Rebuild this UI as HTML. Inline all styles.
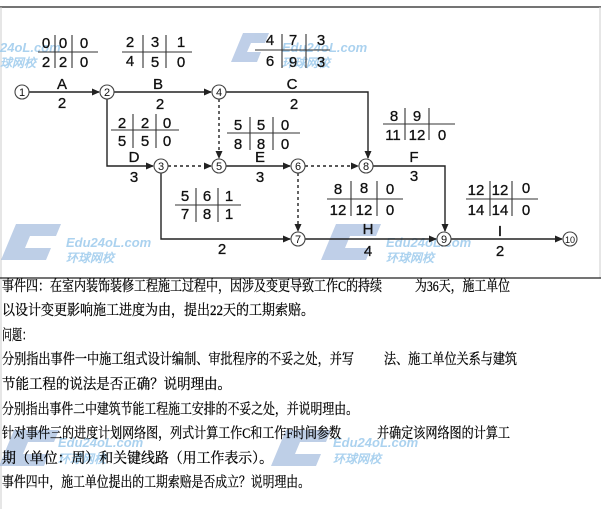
<!DOCTYPE html>
<html><head><meta charset="utf-8"><style>
html,body{margin:0;padding:0;background:#fff;}
svg{display:block}
.t{font-family:"Liberation Sans",sans-serif;font-size:15px;fill:#111;text-anchor:middle;stroke:#111;stroke-width:0.3}
.c{font-family:"Liberation Serif","Noto Serif CJK SC",serif;font-size:14.5px;fill:#000;stroke:#000;stroke-width:0.25}
.wm{font-family:"Liberation Sans",sans-serif;font-style:italic;font-weight:bold;fill:#8fc3ea}
</style></head><body>
<svg width="602" height="509" viewBox="0 0 602 509" xmlns="http://www.w3.org/2000/svg">
<defs><marker id="a" markerWidth="8" markerHeight="8" refX="7" refY="4" orient="auto" markerUnits="userSpaceOnUse"><path d="M0,0.5 L8,4 L0,7.5z" fill="#222"/></marker></defs>
<rect width="602" height="509" fill="#fff"/>
<line x1="0" y1="7" x2="601" y2="7" stroke="#222" stroke-width="1.2"/>
<line x1="1" y1="7" x2="1" y2="509" stroke="#ccc"/>
<line x1="600" y1="7" x2="600" y2="278" stroke="#ccc"/>
<line x1="0" y1="278" x2="601" y2="278" stroke="#222" stroke-width="1.2"/>

<g opacity="0.75">
<path d="M243,33 h26 l-4,10 h-14 l-4,9 h14 l-4,10 h-26z" fill="#a9bfe0"/>
<text class="wm" x="282" y="52" font-size="13">Edu24oL.com</text>
<text class="wm" x="282" y="67" font-size="12">环球网校</text>
<text class="wm" x="0" y="52" font-size="13">24oL.com</text>
<text class="wm" x="0" y="67" font-size="12">球网校</text>
<path d="M16,224 h45 l-5,12 h-26 l-5,12 h26 l-5,12 h-45z" fill="#a9bfe0"/>
<text class="wm" x="66" y="247" font-size="13">Edu24oL.com</text>
<text class="wm" x="66" y="262" font-size="12">环球网校</text>
<path d="M336,224 h45 l-5,12 h-26 l-5,12 h26 l-5,12 h-45z" fill="#a9bfe0"/>
<text class="wm" x="386" y="247" font-size="13">Edu24oL.com</text>
<text class="wm" x="386" y="262" font-size="12">环球网校</text>
<path d="M14,430 h45 l-5,12 h-26 l-5,12 h26 l-5,12 h-45z" fill="#a9bfe0"/>
<text class="wm" x="58" y="447" font-size="13">Edu24oL.com</text>
<text class="wm" x="58" y="463" font-size="12">环球网校</text>
<path d="M286,430 h45 l-5,12 h-26 l-5,12 h26 l-5,12 h-45z" fill="#a9bfe0"/>
<text class="wm" x="333" y="447" font-size="13">Edu24oL.com</text>
<text class="wm" x="333" y="463" font-size="12">环球网校</text>
</g>

<g stroke="#222" stroke-width="1.4" fill="none">
<line x1="29" y1="92" x2="99" y2="92" marker-end="url(#a)"/>
<line x1="114" y1="92" x2="211" y2="92" marker-end="url(#a)"/>
<polyline points="226,92 368,92 368,158" marker-end="url(#a)"/>
<polyline points="107,99 107,166 153,166" marker-end="url(#a)"/>
<line x1="226" y1="166" x2="290" y2="166" marker-end="url(#a)"/>
<polyline points="161,173 161,239 290,239" marker-end="url(#a)"/>
<polyline points="373,166 445,166 445,231" marker-end="url(#a)"/>
<line x1="305" y1="239" x2="436" y2="239" marker-end="url(#a)"/>
<line x1="451" y1="239" x2="562" y2="239" marker-end="url(#a)"/>
<g stroke-dasharray="3,3">
<line x1="168" y1="166" x2="211" y2="166" marker-end="url(#a)"/>
<line x1="219" y1="99" x2="219" y2="158" marker-end="url(#a)"/>
<line x1="305" y1="166" x2="358" y2="166" marker-end="url(#a)"/>
<line x1="298" y1="173" x2="298" y2="231" marker-end="url(#a)"/>
</g>
</g>
<g fill="#fff" stroke="#444" stroke-width="1.1">
<circle cx="22" cy="92" r="7"/><circle cx="107" cy="92" r="7"/><circle cx="219" cy="92" r="7"/>
<circle cx="161" cy="166" r="7"/><circle cx="219" cy="166" r="7"/><circle cx="298" cy="166" r="7"/>
<circle cx="366" cy="166" r="7"/><circle cx="298" cy="239" r="7"/><circle cx="444" cy="239" r="7"/>
<circle cx="570" cy="239" r="7"/>
</g>
<g class="t" style="font-size:11px;stroke-width:0">
<text x="22" y="96">1</text><text x="107" y="96">2</text><text x="219" y="96">4</text>
<text x="161" y="170">3</text><text x="219" y="170">5</text><text x="298" y="170">6</text>
<text x="366" y="170">8</text><text x="298" y="243">7</text><text x="444" y="243">9</text>
<text x="570" y="243" style="font-size:9px">10</text>
</g>
<g class="t">
<text x="62" y="89">A</text><text x="62" y="108">2</text>
<text x="158" y="89">B</text><text x="160" y="109">2</text>
<text x="292" y="89">C</text><text x="294" y="109">2</text>
<text x="134" y="162">D</text><text x="134" y="182">3</text>
<text x="260" y="162">E</text><text x="260" y="182">3</text>
<text x="414" y="162">F</text><text x="414" y="181">3</text>
<text x="222" y="254">2</text>
<text x="368" y="234">H</text><text x="368" y="256">4</text>
<text x="500" y="236">I</text><text x="500" y="256">2</text>
</g>
<g stroke="#333" stroke-width="1.1">
<line x1="38" y1="52" x2="98" y2="52"/><line x1="55" y1="35" x2="55" y2="68"/><line x1="72" y1="35" x2="72" y2="68"/>
<line x1="122" y1="52" x2="192" y2="52"/><line x1="143" y1="35" x2="143" y2="68"/><line x1="166" y1="35" x2="166" y2="68"/>
<line x1="255" y1="50" x2="330" y2="50"/><line x1="282" y1="34" x2="282" y2="68"/><line x1="306" y1="34" x2="306" y2="68"/>
<line x1="111" y1="130" x2="179" y2="130"/><line x1="133" y1="114" x2="133" y2="148"/><line x1="156" y1="114" x2="156" y2="148"/>
<line x1="227" y1="133" x2="300" y2="133"/><line x1="250" y1="117" x2="250" y2="150"/><line x1="273" y1="117" x2="273" y2="150"/>
<line x1="175" y1="205" x2="241" y2="205"/><line x1="196" y1="188" x2="196" y2="222"/><line x1="218" y1="188" x2="218" y2="222"/>
<line x1="383" y1="124" x2="455" y2="124"/><line x1="405" y1="108" x2="405" y2="140"/><line x1="429" y1="108" x2="429" y2="140"/>
<line x1="327" y1="199" x2="403" y2="199"/><line x1="351" y1="181" x2="351" y2="216"/><line x1="377" y1="181" x2="377" y2="216"/>
<line x1="466" y1="199" x2="538" y2="199"/><line x1="490" y1="181" x2="490" y2="216"/><line x1="512" y1="181" x2="512" y2="216"/>
</g>
<g class="t">
<text x="46" y="48">0</text><text x="63" y="48">0</text><text x="84" y="48">0</text>
<text x="46" y="67">2</text><text x="63" y="67">2</text><text x="84" y="67">0</text>
<text x="130" y="47">2</text><text x="155" y="47">3</text><text x="181" y="47">1</text>
<text x="130" y="66">4</text><text x="155" y="67">5</text><text x="181" y="67">0</text>
<text x="270" y="45">4</text><text x="293" y="45">7</text><text x="321" y="45">3</text>
<text x="270" y="66">6</text><text x="293" y="67">9</text><text x="321" y="67">3</text>
<text x="122" y="128">2</text><text x="145" y="128">2</text><text x="167" y="128">0</text>
<text x="122" y="146">5</text><text x="145" y="146">5</text><text x="167" y="146">0</text>
<text x="238" y="130">5</text><text x="261" y="130">5</text><text x="285" y="130">0</text>
<text x="238" y="149">8</text><text x="261" y="149">8</text><text x="285" y="149">0</text>
<text x="185" y="201">5</text><text x="207" y="201">6</text><text x="229" y="201">1</text>
<text x="185" y="219">7</text><text x="207" y="219">8</text><text x="229" y="219">1</text>
<text x="394" y="121">8</text><text x="417" y="121">9</text>
<text x="393" y="140">11</text><text x="417" y="140">12</text><text x="442" y="140">0</text>
<text x="338" y="194">8</text><text x="364" y="193">8</text><text x="390" y="194">0</text>
<text x="338" y="215">12</text><text x="364" y="215">12</text><text x="390" y="215">0</text>
<text x="476" y="195">12</text><text x="500" y="195">12</text><text x="526" y="193">0</text>
<text x="476" y="215">14</text><text x="500" y="215">14</text><text x="526" y="215">0</text>
</g>
<g class="c">
<text x="2" y="291" textLength="380" lengthAdjust="spacingAndGlyphs">事件四：在室内装饰装修工程施工过程中，因涉及变更导致工作C的持续</text>
<text x="415" y="291" textLength="95" lengthAdjust="spacingAndGlyphs">为36天，施工单位</text>
<text x="2" y="315" textLength="312" lengthAdjust="spacingAndGlyphs">以设计变更影响施工进度为由，提出22天的工期索赔。</text>
<text x="2" y="340" textLength="30" lengthAdjust="spacingAndGlyphs">问题：</text>
<text x="2" y="364" textLength="352" lengthAdjust="spacingAndGlyphs">分别指出事件一中施工组式设计编制、审批程序的不妥之处，并写</text>
<text x="384" y="364" textLength="133" lengthAdjust="spacingAndGlyphs">法、施工单位关系与建筑</text>
<text x="2" y="389" textLength="229" lengthAdjust="spacingAndGlyphs">节能工程的说法是否正确？说明理由。</text>
<text x="2" y="414" textLength="356" lengthAdjust="spacingAndGlyphs">分别指出事件二中建筑节能工程施工安排的不妥之处，并说明理由。</text>
<text x="2" y="438" textLength="339" lengthAdjust="spacingAndGlyphs">针对事件三的进度计划网络图，列式计算工作C和工作F时间参数</text>
<text x="377" y="438" textLength="133" lengthAdjust="spacingAndGlyphs">并确定该网络图的计算工</text>
<text x="2" y="463" textLength="271" lengthAdjust="spacingAndGlyphs">期（单位：周）和关键线路（用工作表示）。</text>
<text x="2" y="487" textLength="308" lengthAdjust="spacingAndGlyphs">事件四中，施工单位提出的工期索赔是否成立？说明理由。</text>
</g>
</svg>
</body></html>
